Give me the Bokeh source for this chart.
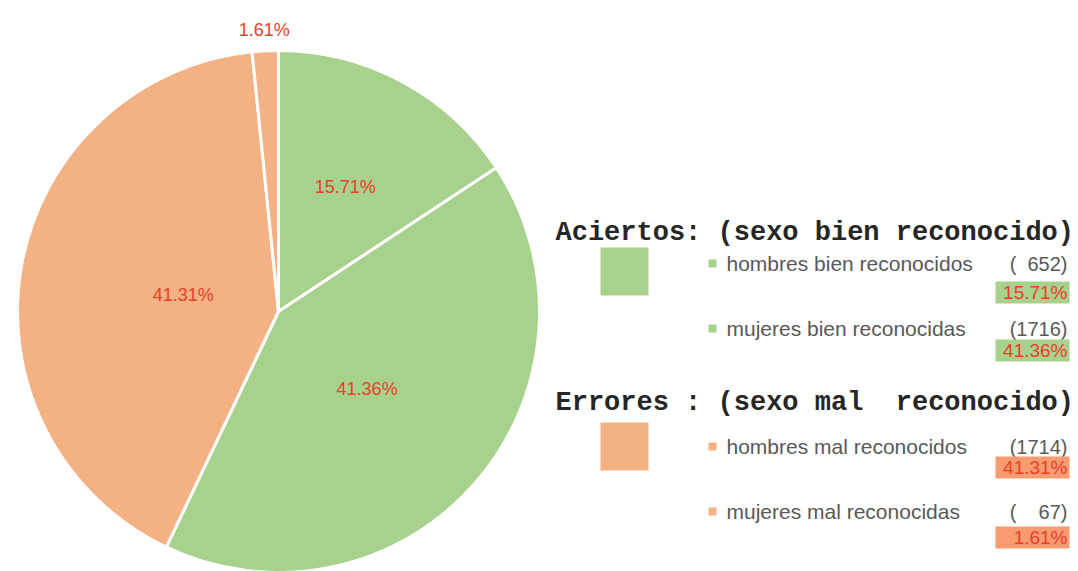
import numpy as np
from bokeh.plotting import figure
from bokeh.models import Range1d
from bokeh.core.properties import value
from bokeh.embed import file_html
from bokeh.resources import INLINE

# ---- data ----
categories = ["hombres bien reconocidos", "mujeres bien reconocidas",
              "hombres mal reconocidos", "mujeres mal reconocidas"]
counts = [652, 1716, 1714, 67]
groups = ["Aciertos: (sexo bien reconocido)", "Errores : (sexo mal  reconocido)"]

# ---- styles ----
GREEN = "#A9D18E"
ORANGE = "#F4B183"
BOX_COLORS = ["#A9D18E", "#A9D18E", "#F79B70", "#F79B70"]
LABEL_RED = "#E8402A"
GREY = "#595959"
slice_colors = [GREEN, GREEN, ORANGE, ORANGE]
label_rfrac = [0.54, 0.45, 0.37, 1.08]
NB = "\u00a0"

W, H = 1078, 571
def Y(img_y):
    return H - img_y

p = figure(width=W, height=H, x_range=Range1d(0, W), y_range=Range1d(0, H),
           output_backend="svg", toolbar_location=None, min_border=0)
p.axis.visible = False
p.grid.visible = False
p.outline_line_color = None
p.background_fill_color = "white"

total = float(sum(counts))
frac = np.array(counts) / total
cum = np.concatenate([[0], np.cumsum(frac)])
start = np.pi / 2 - 2 * np.pi * cum[:-1]
end = np.pi / 2 - 2 * np.pi * cum[1:]
cx, cy, R = 278, Y(311), 261

p.wedge(x=cx, y=cy, radius=R, start_angle=start, end_angle=end, direction="clock",
        fill_color=slice_colors, line_color="white", line_width=3)

pct = ["%.2f%%" % (f * 100) for f in frac]
mid = (start + end) / 2
lx = cx + np.array(label_rfrac) * R * np.cos(mid)
ly = cy + np.array(label_rfrac) * R * np.sin(mid)
p.text(x=lx, y=ly, text=pct, text_align="center", text_baseline="middle",
       text_color=LABEL_RED, text_font=value("Liberation Sans"), text_font_size="18px")

# ---- legend ----
title_y = [Y(232), Y(402)]
p.text(x=[555, 555], y=title_y, text=[g.replace(" ", NB) for g in groups],
       text_align="left", text_baseline="middle",
       text_color="#262626", text_font=value("Liberation Mono"), text_font_size="27px",
       text_font_style="bold")

sq_y = [Y(271), Y(446)]
p.rect(x=[624, 624], y=sq_y, width=48, height=48, fill_color=[GREEN, ORANGE], line_color=None)

row_y = [Y(263), Y(328), Y(446), Y(511)]
box_y = [Y(292), Y(350), Y(467), Y(537)]
p.rect(x=[712] * 4, y=row_y, width=8, height=8, fill_color=slice_colors, line_color=None)
p.text(x=[726] * 4, y=row_y, text=categories, text_align="left", text_baseline="middle",
       text_color=GREY, text_font=value("Liberation Sans"), text_font_size="21px")
cnt_txt = [("(%4d)" % c).replace(" ", NB + NB) for c in counts]
p.text(x=[1067] * 4, y=row_y, text=cnt_txt, text_align="right", text_baseline="middle",
       text_color=GREY, text_font=value("Liberation Sans"), text_font_size="20px")
p.rect(x=[1032] * 4, y=box_y, width=74, height=22, fill_color=BOX_COLORS, line_color=None)
p.text(x=[1067] * 4, y=box_y, text=pct, text_align="right", text_baseline="middle",
       text_color=LABEL_RED, text_font=value("Liberation Sans"), text_font_size="19px")

open("out.html", "w").write(file_html(p, INLINE))
